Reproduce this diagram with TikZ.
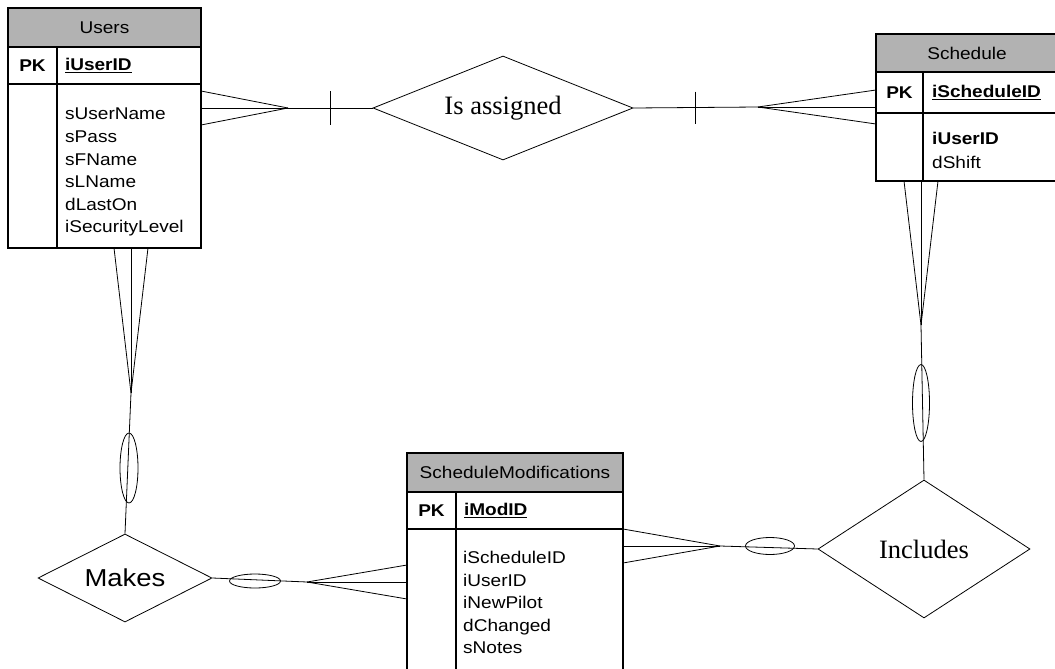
\documentclass[tikz,border=0pt]{standalone}
\usepackage{fontspec}
\usepackage{tikz}
\usetikzlibrary{positioning,calc,shapes.geometric}
\newfontfamily\erfont[FakeStretch=1.12]{Liberation Sans}
\newfontfamily\relfont{Liberation Serif}
\definecolor{hdrgray}{RGB}{178,178,178}

\begin{document}
\begin{tikzpicture}[x=1pt, y=-1pt,
  tbl/.style={draw, line width=1.4pt, inner sep=0pt, outer sep=0pt, anchor=north west,
    font=\erfont\fontsize{17}{22}\selectfont},
  hdr/.style={tbl, fill=hdrgray},
  keycell/.style={tbl, align=left, inner xsep=8pt},
  fields/.style={inner sep=0pt, anchor=north west, align=left,
    font=\erfont\fontsize{17}{22.6}\selectfont},
  rel/.style={draw, diamond, line width=0.8pt, inner sep=0pt, aspect=2.5},
  opt/.style={draw, ellipse, line width=0.8pt, inner sep=0pt},
  conn/.style={line width=0.8pt}]
  \useasboundingbox (0,0) rectangle (1055,669);
  \clip (0,0) rectangle (1055,669);

  % Users
  \node[hdr, minimum width=193pt, minimum height=39pt] (users-h) at (8,8) {Users};
  \node[tbl, minimum width=49pt, minimum height=37pt, below=0pt of users-h.south west, anchor=north west] (users-pk) {\textbf{PK}};
  \node[keycell, text width=128pt, minimum height=37pt, right=0pt of users-pk.north east, anchor=north west] (users-key) {\underline{\textbf{iUserID}}};
  \node[tbl, minimum width=49pt, minimum height=164pt, below=0pt of users-pk.south west, anchor=north west] (users-b) {};
  \node[tbl, minimum width=144pt, minimum height=164pt, right=0pt of users-b.north east, anchor=north west] (users-at) {};
  \node[fields, below right=24pt and 8pt of users-at.north west] (users-f) {sUserName\\sPass\\sFName\\sLName\\dLastOn\\iSecurityLevel};

  % Schedule
  \node[hdr, minimum width=182pt, minimum height=38pt] (sched-h) at (876,34) {Schedule};
  \node[tbl, minimum width=47pt, minimum height=41pt, below=0pt of sched-h.south west, anchor=north west] (sched-pk) {\textbf{PK}};
  \node[keycell, text width=117pt, inner xsep=9pt, minimum height=41pt, right=0pt of sched-pk.north east, anchor=north west] (sched-key) {\underline{\textbf{iScheduleID}}};
  \node[tbl, minimum width=47pt, minimum height=68pt, below=0pt of sched-pk.south west, anchor=north west] (sched-b) {};
  \node[tbl, minimum width=135pt, minimum height=68pt, right=0pt of sched-b.north east, anchor=north west] (sched-at) {};
  \node[fields, below right=19pt and 9pt of sched-at.north west, font=\erfont\fontsize{17}{24}\selectfont] (sched-f) {\textbf{iUserID}\\dShift};

  % ScheduleModifications
  \node[hdr, minimum width=216pt, minimum height=39pt] (mods-h) at (407,453) {ScheduleModifications};
  \node[tbl, minimum width=49pt, minimum height=37pt, below=0pt of mods-h.south west, anchor=north west] (mods-pk) {\textbf{PK}};
  \node[keycell, text width=151pt, minimum height=37pt, right=0pt of mods-pk.north east, anchor=north west] (mods-key) {\underline{\textbf{iModID}}};
  \node[tbl, minimum width=49pt, minimum height=150pt, below=0pt of mods-pk.south west, anchor=north west] (mods-b) {};
  \node[tbl, minimum width=167pt, minimum height=150pt, right=0pt of mods-b.north east, anchor=north west] (mods-at) {};
  \node[fields, below right=22pt and 7pt of mods-at.north west] (mods-f) {iScheduleID\\iUserID\\iNewPilot\\dChanged\\sNotes};

  % relationships
  \node[rel, minimum width=260pt, minimum height=104pt, font=\relfont\fontsize{26.5}{30}\selectfont] (assign) at (503,108) {Is assigned};
  \node[rel, minimum width=212pt, minimum height=138pt, font=\relfont\fontsize{26.5}{30}\selectfont] (incl) at (924,549) {Includes};
  \node[rel, minimum width=174pt, minimum height=88pt, font=\erfont\fontsize{24.5}{28}\selectfont] (makes) at (125,578) {Makes};

  % where the feet meet
  \coordinate (ua) at (288,108);
  \coordinate (sa) at (758,107);
  \coordinate (sf) at (921,325);
  \coordinate (uf) at (131,393);
  \coordinate (mf) at (307,582);
  \coordinate (mi) at (720,546);

  \draw[conn] (ua) -- (assign.west);
  \draw[conn] (sa) -- (assign.east);
  \draw[conn] (uf) -- (makes.north);
  \draw[conn] (mf) -- (makes.east);
  \draw[conn] (mi) -- (incl.west);
  \draw[conn] (sf) -- (incl.north);

  \foreach \d in {-17,0,17} {
    \draw[conn] (ua) -- ($(ua -| users-at.east)+(0,\d)$);
    \draw[conn] (sa) -- ($(sa -| sched-pk.west)+(0,\d)$);
    \draw[conn] (sf) -- ($(sf |- sched-at.south)+(\d,0)$);
    \draw[conn] (uf) -- ($(uf |- users-at.south)+(\d,0)$);
    \draw[conn] (mf) -- ($(mf -| mods-b.west)+(0,\d)$);
    \draw[conn] (mi) -- ($(mi -| mods-at.east)+(0,\d)$);
  }

  % one
  \coordinate (ut) at ($(ua)!0.5!(assign.west)$);
  \coordinate (st) at ($(sa)!0.5!(assign.east)$);
  \draw[conn] ($(ut)+(0,-17)$) -- ($(ut)+(0,17)$);
  \draw[conn] ($(st)+(0,-16)$) -- ($(st)+(0,16)$);

  % zero
  \node[opt, minimum width=18pt, minimum height=70pt] (opt-um) at (129,468) {};
  \node[opt, minimum width=51pt, minimum height=14pt] (opt-mm) at (255,581) {};
  \node[opt, minimum width=49pt, minimum height=17pt] (opt-mi) at (770,546) {};
  \node[opt, minimum width=17pt, minimum height=77pt] (opt-si) at (921,403) {};
\end{tikzpicture}
\end{document}
